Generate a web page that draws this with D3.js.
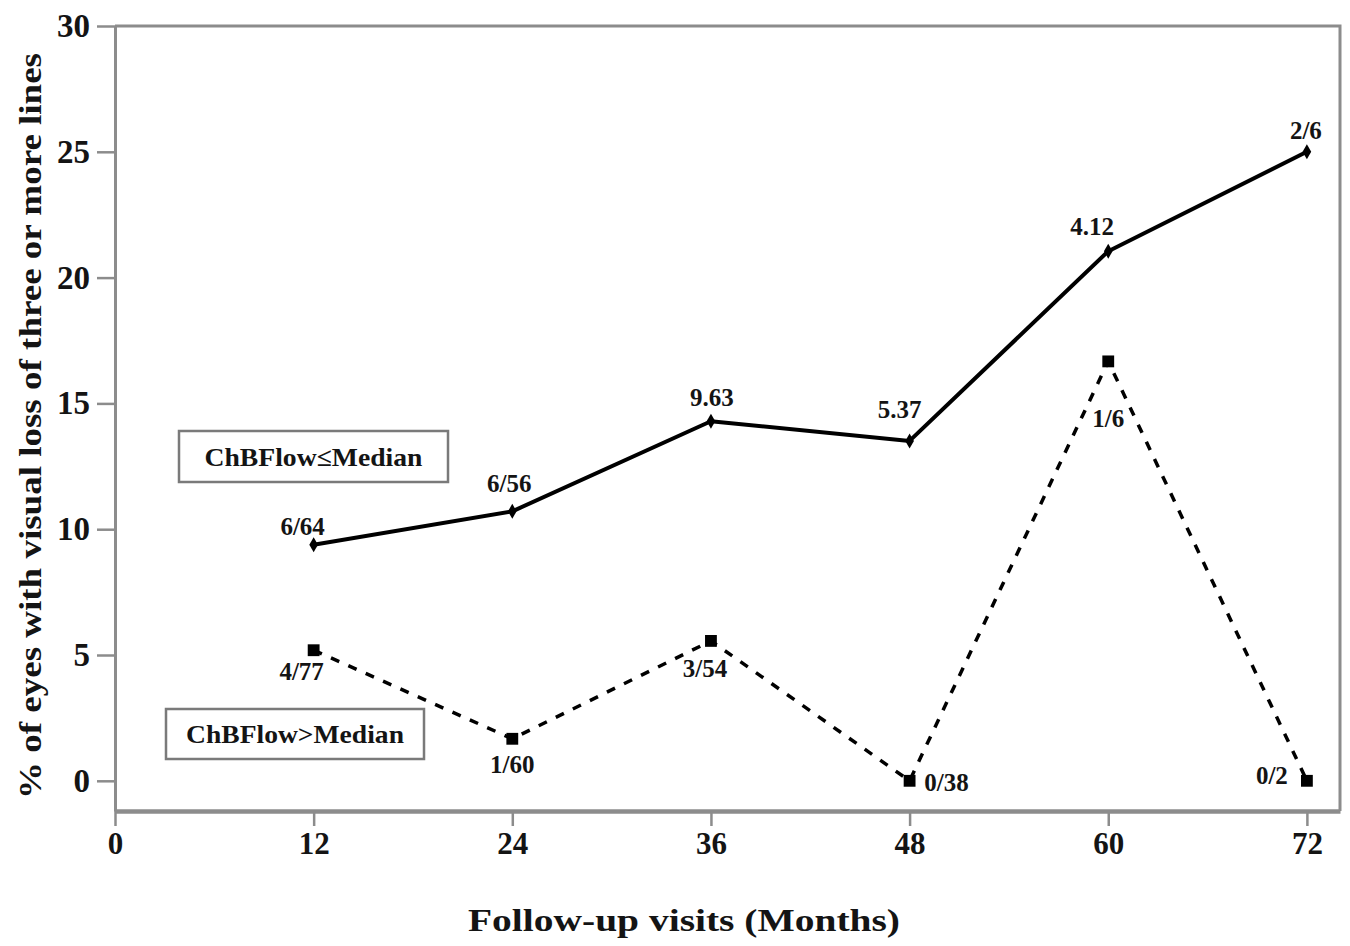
<!DOCTYPE html>
<html>
<head>
<meta charset="utf-8">
<script src="https://cdn.jsdelivr.net/npm/d3@7"></script>
<style>
  html, body { margin: 0; padding: 0; background: #fff; }
  svg { display: block; }
  text { font-family: "Liberation Serif", "Times New Roman", serif; fill: #141414; }
</style>
</head>
<body>
<svg id="chart" width="1350" height="946"></svg>
<script>
// Follow-up months
const months = [12, 24, 36, 48, 60, 72];
// % of eyes losing >= 3 lines, low choroidal blood flow group
const lowFlowPct = [9.38, 10.71, 14.29, 13.51, 21.05, 25.0];
const lowFlowLabels = ["6/64", "6/56", "9.63", "5.37", "4.12", "2/6"];
// % of eyes losing >= 3 lines, high choroidal blood flow group
const highFlowPct = [5.19, 1.67, 5.56, 0, 16.67, 0];
const highFlowLabels = ["4/77", "1/60", "3/54", "0/38", "1/6", "0/2"];
// Axis ticks
const xTicks = [0, 12, 24, 36, 48, 60, 72];
const yTicks = [0, 5, 10, 15, 20, 25, 30];
const legendNames = ["ChBFlow\u2264Median", "ChBFlow>Median"];

const svg = d3.select("#chart");
const plotL = 115, plotR = 1340, plotT = 26, plotB = 811;
const frameColor = "#8c8c8c";

const x = d3.scaleLinear().domain([0, 74]).range([plotL, plotR]);
const y = d3.scaleLinear().domain([-1.2, 30]).range([plotB, plotT]);

// Plot frame (top and right edges)
svg.append("path")
  .attr("d", `M${plotL},${plotT}H${plotR}V${plotB}`)
  .attr("fill", "none").attr("stroke", frameColor).attr("stroke-width", 3);

// Y axis
const yAxis = svg.append("g").attr("transform", `translate(${plotL},0)`)
  .call(d3.axisLeft(y).tickValues(yTicks).tickSize(18).tickSizeOuter(0).tickPadding(7));
yAxis.select(".domain").attr("stroke", frameColor).attr("stroke-width", 3);
yAxis.selectAll(".tick line").attr("stroke", frameColor).attr("stroke-width", 2.5);
yAxis.selectAll(".tick text")
  .style("font-family", '"Liberation Serif", serif')
  .style("font-weight", "bold").style("font-size", "33px").attr("fill", "#141414");

// X axis
const xAxis = svg.append("g").attr("transform", `translate(0,${plotB})`)
  .call(d3.axisBottom(x).tickValues(xTicks).tickSize(15).tickSizeOuter(0).tickPadding(6));
xAxis.select(".domain").attr("stroke", frameColor).attr("stroke-width", 4.5);
xAxis.selectAll(".tick line").attr("stroke", frameColor).attr("stroke-width", 2.5);
xAxis.selectAll(".tick text")
  .style("font-family", '"Liberation Serif", serif')
  .style("font-weight", "bold").style("font-size", "31px").attr("fill", "#141414");

// Axis titles
svg.append("text")
  .attr("transform", "translate(41,426) rotate(-90)")
  .attr("text-anchor", "middle")
  .attr("textLength", 746).attr("lengthAdjust", "spacingAndGlyphs")
  .style("font-weight", "bold").style("font-size", "32px")
  .text("% of eyes with visual loss of three or more lines");

svg.append("text")
  .attr("x", 684).attr("y", 931)
  .attr("text-anchor", "middle")
  .attr("textLength", 432).attr("lengthAdjust", "spacingAndGlyphs")
  .style("font-weight", "bold").style("font-size", "32px")
  .text("Follow-up visits (Months)");

const line = d3.line().x(d => x(d[0])).y(d => y(d[1]));
const lowPts = months.map((m, i) => [m, lowFlowPct[i]]);
const highPts = months.map((m, i) => [m, highFlowPct[i]]);

// Low-flow series: solid line with small diamond markers
svg.append("path").datum(lowPts).attr("d", line)
  .attr("fill", "none").attr("stroke", "#000").attr("stroke-width", 4)
  .attr("stroke-linejoin", "round");
svg.selectAll(".lowPt").data(lowPts).join("path").attr("class", "lowPt")
  .attr("transform", d => `translate(${x(d[0])},${y(d[1])})`)
  .attr("d", d3.symbol(d3.symbolDiamond, 65)).attr("fill", "#000");

// High-flow series: dashed line with square markers
svg.append("path").datum(highPts).attr("d", line)
  .attr("fill", "none").attr("stroke", "#000").attr("stroke-width", 3.5)
  .attr("stroke-dasharray", "9,10");
svg.selectAll(".highPt").data(highPts).join("path").attr("class", "highPt")
  .attr("transform", d => `translate(${x(d[0])},${y(d[1])})`)
  .attr("d", d3.symbol(d3.symbolSquare, 140)).attr("fill", "#000");

// Point annotations (nudges keep labels clear of the lines)
const lowNudge = [[-11, -10], [-3, -19], [1, -15], [-10, -23], [-16, -16], [-1, -13]];
const highNudge = [[-12, 30], [0, 34], [-6, 36], [37, 10], [0, 66], [-35, 3]];

svg.selectAll(".lowLbl").data(lowPts).join("text").attr("class", "lowLbl")
  .attr("x", (d, i) => x(d[0]) + lowNudge[i][0])
  .attr("y", (d, i) => y(d[1]) + lowNudge[i][1])
  .attr("text-anchor", "middle")
  .style("font-weight", "bold").style("font-size", "25px")
  .text((d, i) => lowFlowLabels[i]);

svg.selectAll(".highLbl").data(highPts).join("text").attr("class", "highLbl")
  .attr("x", (d, i) => x(d[0]) + highNudge[i][0])
  .attr("y", (d, i) => y(d[1]) + highNudge[i][1])
  .attr("text-anchor", "middle")
  .style("font-weight", "bold").style("font-size", "25px")
  .text((d, i) => highFlowLabels[i]);

// Series legends as boxed labels
const legendBoxes = [
  { name: legendNames[0], x0: 179, y0: 431, w: 269, h: 51 },
  { name: legendNames[1], x0: 166, y0: 709, w: 258, h: 50 }
];
legendBoxes.forEach(b => {
  svg.append("rect").attr("x", b.x0).attr("y", b.y0).attr("width", b.w).attr("height", b.h)
    .attr("fill", "#fff").attr("stroke", "#7a7a7a").attr("stroke-width", 2.5);
  svg.append("text")
    .attr("x", b.x0 + b.w / 2).attr("y", b.y0 + b.h / 2 + 9)
    .attr("text-anchor", "middle")
    .attr("textLength", 218).attr("lengthAdjust", "spacingAndGlyphs")
    .style("font-weight", "bold").style("font-size", "26px")
    .text(b.name);
});
</script>
</body>
</html>
